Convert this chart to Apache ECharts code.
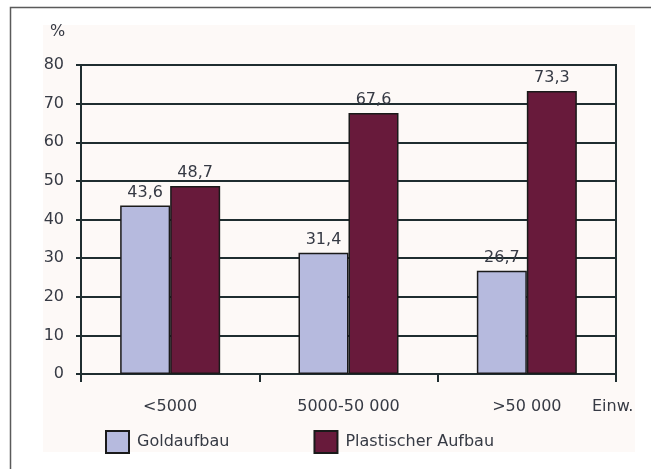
<!DOCTYPE html>
<html>
<head>
<meta charset="utf-8">
<script src="https://cdn.jsdelivr.net/npm/echarts@6/dist/echarts.min.js"></script>
<style>
  html, body { margin: 0; padding: 0; background: #ffffff; }
  #chart { width: 651px; height: 469px; }
</style>
</head>
<body>
<div id="chart"></div>
<script>
// Gemeindegröße (Einwohner) und Anteile in Prozent
const categories = ['<5000', '5000-50 000', '>50 000'];
const goldaufbau = [43.6, 31.4, 26.7];
const plastischerAufbau = [48.7, 67.6, 73.3];
const seriesNames = ['Goldaufbau', 'Plastischer Aufbau'];
const yTicks = { min: 0, max: 80, interval: 10 };

const FONT = 'DejaVu Sans';
const FS = 16;
const TEXT = '#363a44';
const LINE = '#1f2d30';

const chart = echarts.init(document.getElementById('chart'), null, { renderer: 'canvas' });

const fmt = p => String(p.value).replace('.', ',');

chart.setOption({
  animation: false,
  backgroundColor: '#ffffff',
  graphic: [
    { type: 'rect', z: -10, silent: true,
      shape: { x: 10.5, y: 7.5, width: 700, height: 500 },
      style: { fill: '#ffffff', stroke: '#5a5a5a', lineWidth: 1.5 } },
    { type: 'rect', z: -9, silent: true,
      shape: { x: 43, y: 25, width: 592, height: 427 },
      style: { fill: '#fdf9f7' } },
    { type: 'text', left: 50, top: 24, silent: true,
      style: { text: '%', font: FS + 'px "' + FONT + '"', fill: TEXT } },
    { type: 'text', left: 592, top: 399, silent: true,
      style: { text: 'Einw.', font: FS + 'px "' + FONT + '"', fill: TEXT } }
  ],
  grid: {
    left: 81, top: 65, width: 535, height: 309,
    show: true, borderColor: LINE, borderWidth: 2, backgroundColor: 'transparent'
  },
  legend: {
    data: seriesNames,
    left: 105, top: 430, padding: 0,
    itemWidth: 23, itemHeight: 22, itemGap: 84,
    icon: 'rect',
    itemStyle: { borderColor: '#1a1a1a', borderWidth: 2 },
    textStyle: { fontFamily: FONT, fontSize: FS, color: TEXT, padding: [0, 0, 0, 3] }
  },
  xAxis: {
    type: 'category',
    data: categories,
    axisLine: { lineStyle: { color: LINE, width: 2 } },
    axisTick: { show: true, length: 8, lineStyle: { color: LINE, width: 2 } },
    axisLabel: { margin: 25, fontFamily: FONT, fontSize: FS, color: TEXT }
  },
  yAxis: {
    type: 'value',
    min: yTicks.min, max: yTicks.max, interval: yTicks.interval,
    axisLine: { show: true, lineStyle: { color: LINE, width: 2 } },
    axisTick: { show: true, length: 5, lineStyle: { color: LINE, width: 2 } },
    axisLabel: { margin: 17, fontFamily: FONT, fontSize: FS, color: TEXT },
    splitLine: { show: true, lineStyle: { color: LINE, width: 2 } }
  },
  series: [
    {
      name: seriesNames[0], type: 'bar', data: goldaufbau,
      barWidth: 50, barGap: '0%',
      itemStyle: { color: '#b6bade', borderColor: '#1a1a1a', borderWidth: 1.5 },
      label: { show: true, position: 'top', distance: 5, formatter: fmt,
               fontFamily: FONT, fontSize: FS, color: TEXT }
    },
    {
      name: seriesNames[1], type: 'bar', data: plastischerAufbau,
      barWidth: 50, barGap: '0%',
      itemStyle: { color: '#681a3b', borderColor: '#1a1a1a', borderWidth: 1.5 },
      label: { show: true, position: 'top', distance: 5, formatter: fmt,
               fontFamily: FONT, fontSize: FS, color: TEXT }
    }
  ]
});
</script>
</body>
</html>
